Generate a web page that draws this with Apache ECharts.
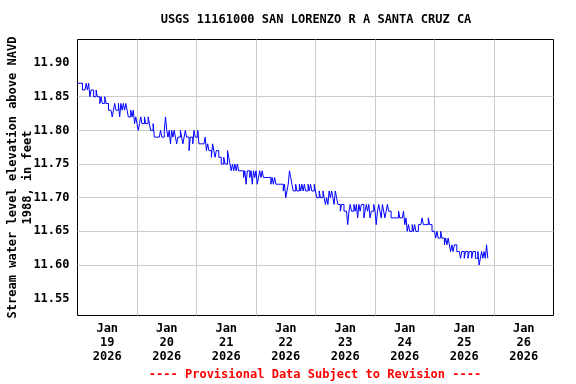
<!DOCTYPE html>
<html>
<head>
<meta charset="utf-8">
<script src="https://cdn.jsdelivr.net/npm/echarts@6/dist/echarts.min.js"></script>
<style>
html,body{margin:0;padding:0;background:#fff;}
#chart{width:576px;height:384px;}
</style>
</head>
<body>
<div id="chart"></div>
<script>
// Half-hourly gage height readings (ft), one array per day starting at midnight
const day19 = [11.87,11.87,11.87,11.87,11.86,11.86,11.86,11.87,11.86,11.87,11.85,11.86,11.86,11.85,11.85,11.86,11.85,11.85,11.84,11.85,11.84,11.84,11.85,11.84,11.84,11.83,11.83,11.83,11.82,11.83,11.84,11.83,11.83,11.84,11.82,11.84,11.83,11.84,11.83,11.84,11.83,11.82,11.82,11.83,11.82,11.83,11.81,11.82];
const day20 = [11.81,11.80,11.81,11.82,11.81,11.81,11.82,11.81,11.81,11.82,11.81,11.80,11.80,11.81,11.79,11.79,11.79,11.79,11.79,11.80,11.79,11.79,11.80,11.82,11.80,11.79,11.80,11.78,11.80,11.79,11.80,11.79,11.78,11.79,11.79,11.80,11.79,11.78,11.79,11.80,11.79,11.79,11.77,11.79,11.79,11.78,11.80,11.79];
const day21 = [11.79,11.80,11.78,11.78,11.78,11.78,11.78,11.79,11.77,11.78,11.77,11.77,11.76,11.78,11.77,11.76,11.77,11.77,11.76,11.76,11.75,11.75,11.76,11.75,11.75,11.77,11.76,11.75,11.74,11.75,11.74,11.75,11.74,11.75,11.74,11.74,11.74,11.74,11.73,11.74,11.72,11.74,11.74,11.73,11.74,11.72,11.74,11.73];
const day22 = [11.74,11.72,11.73,11.74,11.73,11.74,11.73,11.73,11.73,11.73,11.73,11.73,11.72,11.73,11.72,11.73,11.72,11.72,11.72,11.72,11.72,11.72,11.71,11.72,11.70,11.71,11.72,11.74,11.73,11.72,11.71,11.71,11.72,11.71,11.71,11.72,11.71,11.72,11.71,11.72,11.71,11.71,11.72,11.71,11.72,11.71,11.71,11.72];
const day23 = [11.71,11.70,11.70,11.71,11.70,11.70,11.71,11.70,11.69,11.70,11.69,11.71,11.70,11.71,11.70,11.69,11.71,11.70,11.69,11.69,11.68,11.69,11.69,11.68,11.68,11.68,11.66,11.68,11.69,11.68,11.68,11.69,11.68,11.69,11.67,11.69,11.68,11.69,11.69,11.67,11.68,11.69,11.68,11.69,11.67,11.68,11.68,11.69];
const day24 = [11.68,11.66,11.68,11.69,11.68,11.67,11.69,11.68,11.67,11.68,11.69,11.68,11.68,11.67,11.67,11.67,11.67,11.67,11.67,11.68,11.67,11.67,11.67,11.68,11.66,11.67,11.65,11.66,11.65,11.65,11.66,11.65,11.66,11.65,11.65,11.66,11.66,11.66,11.67,11.66,11.66,11.66,11.66,11.67,11.66,11.66,11.65,11.65];
const day25 = [11.65,11.64,11.65,11.64,11.64,11.65,11.64,11.64,11.63,11.64,11.63,11.64,11.63,11.62,11.63,11.62,11.63,11.63,11.62,11.62,11.62,11.61,11.62,11.62,11.61,11.62,11.62,11.61,11.62,11.62,11.61,11.62,11.62,11.61,11.61,11.62,11.60,11.61,11.62,11.61,11.62,11.61,11.63,11.61];

const dayLabels = ['Jan\n19\n2026','Jan\n20\n2026','Jan\n21\n2026','Jan\n22\n2026','Jan\n23\n2026','Jan\n24\n2026','Jan\n25\n2026','Jan\n26\n2026'];
const xLabelHours = [12,36,60,84,108,132,156,180];
const yTicks = [11.55,11.60,11.65,11.70,11.75,11.80,11.85,11.90];

const days = [day19, day20, day21, day22, day23, day24, day25];
const seriesData = [];
days.forEach((arr, d) => arr.forEach((v, i) => seriesData.push([d * 24 + i * 0.5, v])));

const font = '"DejaVu Sans Mono", monospace';
const chart = echarts.init(document.getElementById('chart'), null, {renderer: 'canvas'});
chart.setOption({
  animation: false,
  backgroundColor: '#fff',
  grid: {left: 77.5, right: 22.5, top: 39.5, bottom: 68.5, containLabel: false, outerBoundsMode: 'none', show: true, borderColor: '#000', borderWidth: 1, backgroundColor: 'transparent'},
  xAxis: {
    type: 'value', min: 0, max: 192, interval: 24,
    axisLine: {show: false},
    axisTick: {show: false},
    splitLine: {show: true, showMinLine: false, showMaxLine: false, lineStyle: {color: '#cccccc', width: 1}},
    axisLabel: {
      customValues: xLabelHours,
      margin: 6,
      color: '#000', fontFamily: font, fontWeight: 'bold', fontSize: 12, lineHeight: 14,
      formatter: function (v) { const i = xLabelHours.indexOf(Math.round(v)); return i >= 0 ? dayLabels[i] : ''; }
    }
  },
  yAxis: {
    type: 'value', min: 11.525, max: 11.935,
    name: 'Stream water level elevation above NAVD\n1988, in feet',
    nameLocation: 'middle', nameRotate: 90, nameGap: 42, nameMoveOverlap: false,
    nameTextStyle: {color: '#000', fontFamily: font, fontWeight: 'bold', fontSize: 12, lineHeight: 15, align: 'center'},
    axisLine: {show: false},
    axisTick: {show: false, customValues: yTicks},
    splitLine: {show: true, showMinLine: false, showMaxLine: false, lineStyle: {color: '#cccccc', width: 1}},
    axisLabel: {
      customValues: yTicks,
      margin: 8,
      color: '#000', fontFamily: font, fontWeight: 'bold', fontSize: 12,
      formatter: function (v) { return v.toFixed(2); }
    }
  },
  graphic: [
    {type: 'text', x: 316, y: 20, style: {text: 'USGS 11161000 SAN LORENZO R A SANTA CRUZ CA', font: 'bold 12px ' + font, fill: '#000', textAlign: 'center', textVerticalAlign: 'middle'}},
    {type: 'text', x: 315, y: 375, style: {text: '---- Provisional Data Subject to Revision ----', font: 'bold 12px ' + font, fill: '#ff0000', textAlign: 'center', textVerticalAlign: 'middle'}}
  ],
  series: [{
    type: 'line', data: seriesData, step: 'end', symbol: 'none', showSymbol: false,
    lineStyle: {color: '#0000ff', width: 1}, clip: true
  }]
});
</script>
</body>
</html>
